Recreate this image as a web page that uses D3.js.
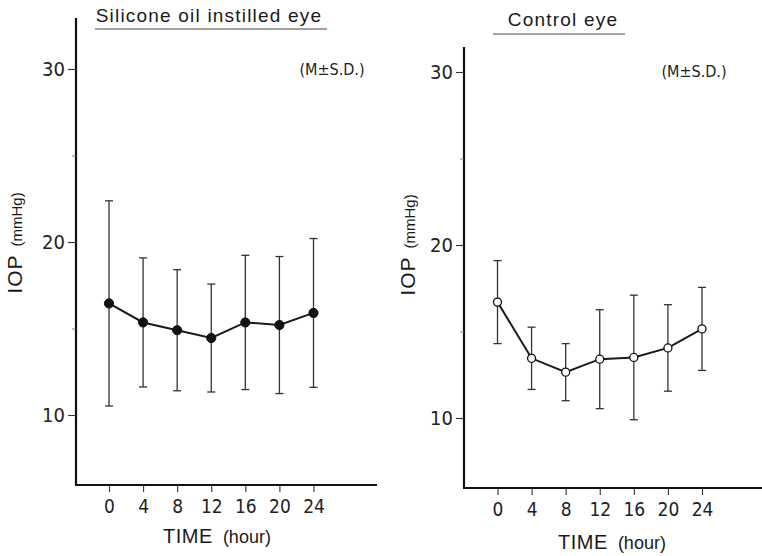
<!DOCTYPE html>
<html>
<head>
<meta charset="utf-8">
<script src="https://cdn.jsdelivr.net/npm/d3@7/dist/d3.min.js"></script>
<style>
  html, body { margin: 0; padding: 0; background: #fff; }
  svg { display: block; }
  .narrow { font-family: "Liberation Sans Narrow", "DejaVu Sans Condensed", "Liberation Sans", sans-serif; }
  .wide { font-family: "Liberation Sans", Arial, sans-serif; }
</style>
</head>
<body>
<svg id="chart" width="762" height="556"></svg>
<script>
// ---- data ----
const hours = [0, 4, 8, 12, 16, 20, 24];
const siliconeMean = [16.45, 15.35, 14.9, 14.45, 15.35, 15.2, 15.9];
const siliconeSD   = [5.93, 3.73, 3.5, 3.12, 3.88, 3.96, 4.3];
const controlMean  = [16.7, 13.45, 12.65, 13.4, 13.5, 14.05, 15.15];
const controlSD    = [2.4, 1.8, 1.65, 2.86, 3.6, 2.5, 2.4];
const yMajorTicks = [10, 20, 30];
const yMinorTicks = [15, 25];
const panelTitles = ["Silicone oil instilled eye", "Control eye"];
const noteLabel = "(M\u00B1S.D.)";
const xLabelMain = "TIME", xLabelUnit = "(hour)";
const yLabelMain = "IOP", yLabelUnit = "(mmHg)";

const svg = d3.select("#chart");

// ---- layout for each panel ----
const panels = [
  { mean: siliconeMean, sd: siliconeSD, title: panelTitles[0], filled: true,
    axisX: 76, xAxisY: 485, yAxisTop: 18, xAxisRight: 377,
    x0: 109, x1: 313.5, y10: 415, y30: 69,
    titleX: 209, titleY: 22, ulY: 29, ul0: 95, ul1: 327,
    noteX: 332, noteY: 75, yLabX: 16, yLabY: 243, xLabX: 217, xLabY: 543 },
  { mean: controlMean, sd: controlSD, title: panelTitles[1], filled: false,
    axisX: 464, xAxisY: 488, yAxisTop: 47, xAxisRight: 762,
    x0: 497.5, x1: 702, y10: 418, y30: 72,
    titleX: 563, titleY: 26, ulY: 34, ul0: 493, ul1: 625,
    noteX: 694, noteY: 77, yLabX: 409, yLabY: 245, xLabX: 612, xLabY: 549 }
];

panels.forEach(p => {
  const g = svg.append("g");
  const x = d3.scaleLinear().domain([0, 24]).range([p.x0, p.x1]);
  const y = d3.scaleLinear().domain([10, 30]).range([p.y10, p.y30]);

  // axis lines
  g.append("line").attr("x1", p.axisX).attr("x2", p.axisX)
    .attr("y1", p.yAxisTop).attr("y2", p.xAxisY)
    .attr("stroke", "#111").attr("stroke-width", 2.2);
  g.append("line").attr("x1", p.axisX - 1).attr("x2", p.xAxisRight)
    .attr("y1", p.xAxisY).attr("y2", p.xAxisY)
    .attr("stroke", "#111").attr("stroke-width", 2.2);

  // y axis major
  const ya = g.append("g").attr("transform", `translate(${p.axisX},0)`)
    .call(d3.axisLeft(y).tickValues(yMajorTicks).tickSize(8).tickPadding(3).tickFormat(d3.format("d")));
  ya.select(".domain").remove();
  ya.selectAll(".tick line").attr("stroke", "#333").attr("stroke-width", 1.1);
  ya.selectAll(".tick text").attr("class", "narrow").attr("font-size", 20).attr("fill", "#222");
  // y axis minor
  const ym = g.append("g").attr("transform", `translate(${p.axisX},0)`)
    .call(d3.axisLeft(y).tickValues(yMinorTicks).tickSize(4).tickFormat(""));
  ym.select(".domain").remove();
  ym.selectAll(".tick line").attr("stroke", "#666").attr("stroke-width", 0.8);

  // x axis
  const xa = g.append("g").attr("transform", `translate(0,${p.xAxisY})`)
    .call(d3.axisBottom(x).tickValues(hours).tickSize(7).tickPadding(8));
  xa.select(".domain").remove();
  xa.selectAll(".tick line").attr("stroke", "#333").attr("stroke-width", 1.1);
  xa.selectAll(".tick text").attr("class", "narrow").attr("font-size", 19).attr("fill", "#222");

  // error bars
  const pts = hours.map((h, i) => ({ h, m: p.mean[i], s: p.sd[i] }));
  const eb = g.append("g").attr("stroke", "#333").attr("stroke-width", 1.3);
  eb.selectAll("line.v").data(pts).join("line").attr("class", "v")
    .attr("x1", d => x(d.h)).attr("x2", d => x(d.h))
    .attr("y1", d => y(d.m + d.s)).attr("y2", d => y(d.m - d.s));
  eb.selectAll("line.t").data(pts).join("line").attr("class", "t")
    .attr("x1", d => x(d.h) - 4).attr("x2", d => x(d.h) + 4)
    .attr("y1", d => y(d.m + d.s)).attr("y2", d => y(d.m + d.s));
  eb.selectAll("line.b").data(pts).join("line").attr("class", "b")
    .attr("x1", d => x(d.h) - 4).attr("x2", d => x(d.h) + 4)
    .attr("y1", d => y(d.m - d.s)).attr("y2", d => y(d.m - d.s));

  // mean line
  g.append("path").datum(pts)
    .attr("d", d3.line().x(d => x(d.h)).y(d => y(d.m)))
    .attr("fill", "none").attr("stroke", "#1a1a1a").attr("stroke-width", 2);
  g.selectAll("circle").data(pts).join("circle")
    .attr("cx", d => x(d.h)).attr("cy", d => y(d.m))
    .attr("r", p.filled ? 4.6 : 4)
    .attr("fill", p.filled ? "#111" : "#fff")
    .attr("stroke", "#111").attr("stroke-width", p.filled ? 1 : 1.3);

  // title + underline
  g.append("text").attr("class", "wide").attr("x", p.titleX).attr("y", p.titleY)
    .attr("text-anchor", "middle").attr("font-size", 19).attr("letter-spacing", 1.2)
    .attr("fill", "#1a1a1a").text(p.title);
  g.append("line").attr("x1", p.ul0).attr("x2", p.ul1).attr("y1", p.ulY).attr("y2", p.ulY)
    .attr("stroke", "#444").attr("stroke-width", 1.1);

  // note
  g.append("text").attr("class", "narrow").attr("x", p.noteX).attr("y", p.noteY)
    .attr("text-anchor", "middle").attr("font-size", 16).attr("fill", "#222").text(noteLabel);

  // y label
  const yl = g.append("text").attr("class", "wide")
    .attr("transform", `translate(${p.yLabX},${p.yLabY}) rotate(-90)`)
    .attr("text-anchor", "middle").attr("dy", "0.35em").attr("fill", "#1a1a1a");
  yl.append("tspan").attr("font-size", 21).attr("letter-spacing", 1).text(yLabelMain);
  yl.append("tspan").attr("font-size", 15).attr("dx", 8).text(yLabelUnit);

  // x label
  const xl = g.append("text").attr("class", "wide").attr("x", p.xLabX).attr("y", p.xLabY)
    .attr("text-anchor", "middle").attr("fill", "#1a1a1a");
  xl.append("tspan").attr("font-size", 20).attr("letter-spacing", 0.5).text(xLabelMain);
  xl.append("tspan").attr("font-size", 18).attr("dx", 10).text(xLabelUnit);
});
</script>
</body>
</html>
